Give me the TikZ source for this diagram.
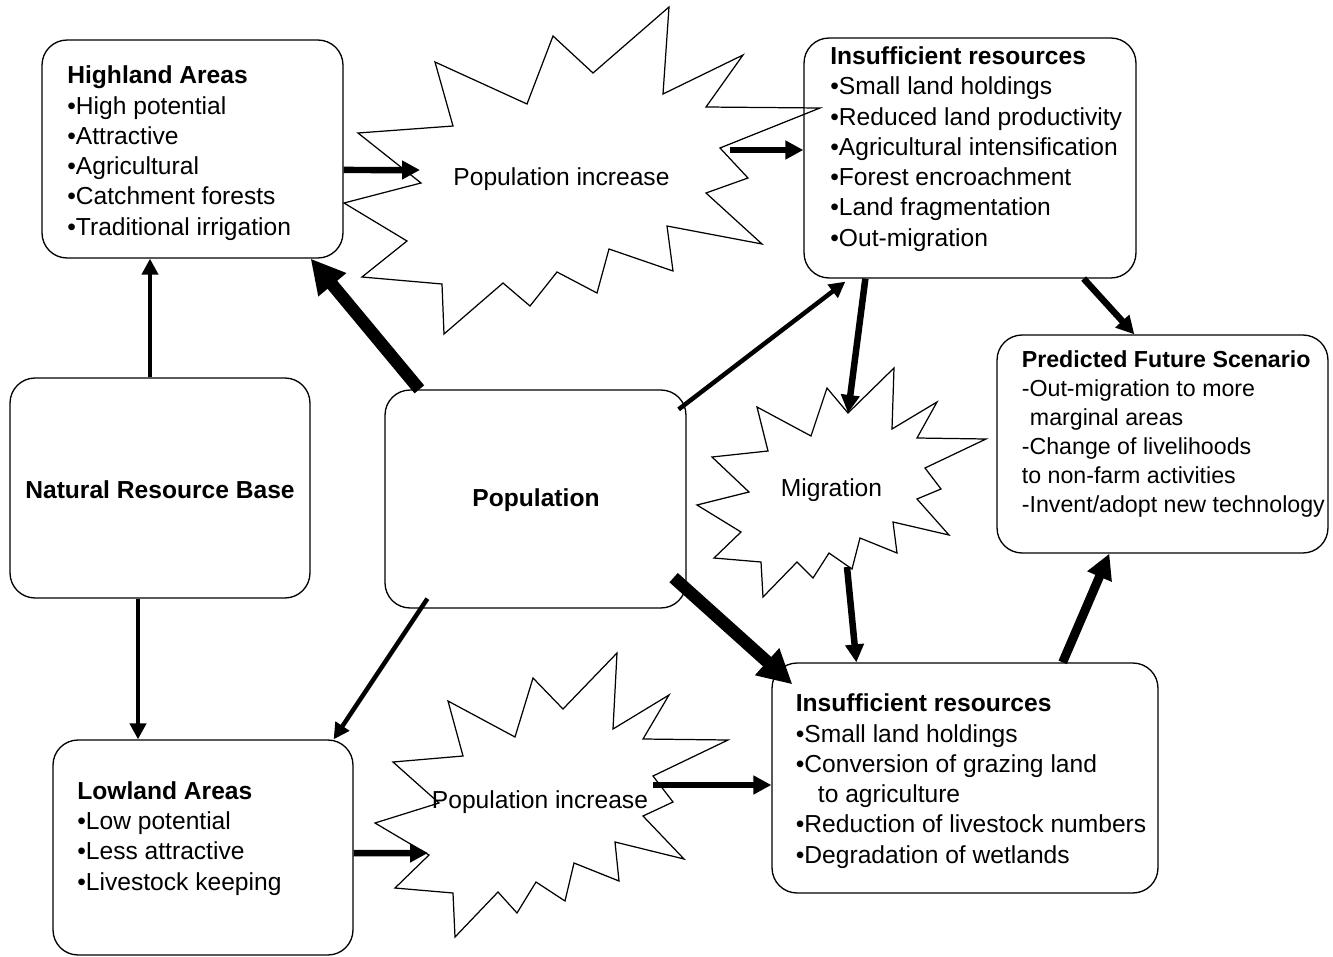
\documentclass[tikz,border=0pt]{standalone}
\usepackage{fontspec}
\setmainfont{Liberation Sans}
\usetikzlibrary{arrows.meta}

\tikzset{
  box/.style={draw, line width=0.75pt, rounded corners=0.5cm, inner sep=0pt},
  burst/.style={draw, line width=0.7pt, fill=white, line join=miter},
  txt/.style={align=left, inner sep=0pt, font=\fontsize{14}{17.2}\selectfont},
  smalltxt/.style={align=left, inner sep=0pt, font=\fontsize{13.2}{16.5}\selectfont},
  thinarr/.style={line width=0.09cm, -{Triangle[length=0.32cm,width=0.32cm]}},
  medarr/.style={line width=0.13cm, -{Triangle[length=0.36cm,width=0.36cm]}},
  boldarr/.style={line width=0.18cm, -{Triangle[length=0.5cm,width=0.5cm]}},
  fatarr/.style={line width=0.25cm, -{Triangle[length=0.68cm,width=0.68cm]}}
}

\begin{document}
\begin{tikzpicture}[x=0.02cm,y=-0.02cm]
\useasboundingbox (0,0) rectangle (1333,957);

% Drawing starburst above (population increase, highlands)
\draw [burst] (344,203) -- (421,183) -- (358,133) -- (453,126) -- (435,62) -- (527,104) -- (553,36) -- (593,73) -- (669,7) -- (663,94) -- (743,55) -- (706,107) -- (820,108) -- (720,148) -- (748,178) -- (706,193) -- (762,244) -- (667,226) -- (673,271) -- (609,249) -- (597,293) -- (557,272) -- (530,306) -- (503,283) -- (444,334) -- (442,284) -- (362,277) -- (407,241) -- cycle;%

% Drawing starburst middle (migration)
\draw [burst] (827,388) -- (848,413) -- (894,368) -- (892,429) -- (937,402) -- (917,438) -- (986,439) -- (925,468) -- (941,489) -- (917,499) -- (949,535) -- (893,522) -- (897,553) -- (860,538) -- (852,569) -- (829,553) -- (813,578) -- (797,562) -- (763,597) -- (761,562) -- (714,558) -- (741,532) -- (697,505) -- (749,492) -- (712,457) -- (768,451) -- (757,407) -- (811,436) -- cycle;%

% Drawing starburst below (population increase, lowlands)
\draw [burst] (448,701) -- (515,737) -- (533,678) -- (563,709) -- (617,653) -- (613,729) -- (669,695) -- (643,739) -- (728,740) -- (653,776) -- (673,802) -- (643,816) -- (684,859) -- (615,842) -- (619,881) -- (574,863) -- (565,901) -- (536,882) -- (517,913) -- (498,892) -- (455,937) -- (453,893) -- (395,888) -- (429,855) -- (375,823) -- (439,803) -- (393,762) -- (463,756) -- cycle;%

% Texts of the starbursts
\node [txt, anchor=base] (incup) at (561.5,185) {Population increase};
\node [txt, anchor=base] (migtext) at (831.5,496.5) {Migration};
\node [txt, anchor=base] (incdown) at (540,808) {Population increase};

% Points on the starbursts
\coordinate (burstupin) at (420,170);
\coordinate (burstupout) at (730,150);
\coordinate (migin) at (848,413);
\coordinate (migout) at (847,567);
\coordinate (burstdownin) at (428,853);
\coordinate (burstdownout) at (653,785);

% Boxes
\node [box, minimum width=6.02cm, minimum height=4.36cm] (high) at (192.5,149) {};
\node [box, minimum width=6cm, minimum height=4.4cm] (nat) at (160,488) {};
\node [box, minimum width=6.02cm, minimum height=4.36cm] (pop) at (535.5,499) {};
\node [box, minimum width=6cm, minimum height=4.3cm] (low) at (203,847.5) {};
\node [box, minimum width=6.64cm, minimum height=4.8cm] (instop) at (970,158) {};
\node [box, minimum width=6.62cm, minimum height=4.36cm] (pred) at (1162.5,444) {};
\node [box, minimum width=7.72cm, minimum height=4.6cm] (insbot) at (965,778) {};

% Texts of the boxes (base = baseline of the last line)
\node [txt, anchor=base west] (hightext) at (67,235) {\textbf{Highland Areas}\\•High potential\\•Attractive\\•Agricultural\\•Catchment forests\\•Traditional irrigation};
\node [txt, anchor=center] (nattext) at (160,490) {\textbf{Natural Resource Base}};
\node [txt, anchor=center] (poptext) at (536,500) {\textbf{Population}};
\node [txt, anchor=base west] (lowtext) at (77,890) {\textbf{Lowland Areas}\\•Low potential\\•Less attractive\\•Livestock keeping};
\node [txt, anchor=base west] (instoptext) at (830,246) {\textbf{Insufficient resources}\\•Small land holdings\\•Reduced land productivity\\•Agricultural intensification\\•Forest encroachment\\•Land fragmentation\\•Out-migration};
\node [smalltxt, anchor=base west] (predtext) at (1021.5,512) {\textbf{Predicted Future Scenario}\\-Out-migration to more\\\hspace*{0.35em}marginal areas\\-Change of livelihoods\\to non-farm activities\\-Invent/adopt new technology};
\node [txt, anchor=base west] (insbottext) at (795.5,863) {\textbf{Insufficient resources}\\•Small land holdings\\•Conversion of grazing land\\\hspace*{0.9em}to agriculture\\•Reduction of livestock numbers\\•Degradation of wetlands};

% Arrows
\draw [thinarr] ([xshift=-0.2cm]nat.north) -- ([xshift=-0.2cm]nat.north |- high.south);
\draw [thinarr] ([xshift=-0.44cm]nat.south) -- ([xshift=-0.44cm]nat.south |- low.north);
\draw [medarr] ([yshift=-0.42cm]high.east) -- (burstupin);
\draw [medarr] (burstupout) -- (burstupout -| instop.west);
\draw [fatarr] ([xshift=0.7cm]pop.north west) -- ([xshift=-0.66cm]high.south east);
\draw [thinarr] ([xshift=-0.16cm,yshift=-0.4cm]pop.north east) -- ([xshift=0.84cm,yshift=-0.06cm]instop.south west);
\draw [medarr] ([xshift=1.24cm]instop.south west) -- (migin);
\draw [medarr] ([xshift=-1.06cm]instop.south east) -- ([xshift=2.76cm]pred.north west);
\draw [fatarr] ([xshift=-0.26cm,yshift=0.62cm]pop.south east) -- ([xshift=0.42cm,yshift=-0.44cm]insbot.north west);
\draw [medarr] (migout) -- ([xshift=1.7cm]insbot.north west);
\draw [boldarr] ([xshift=-1.92cm]insbot.north east) -- ([xshift=2.26cm]pred.south west);
\draw [thinarr] ([xshift=0.86cm,yshift=0.2cm]pop.south west) -- ([xshift=-0.4cm]low.north east);
\draw [medarr] ([yshift=-0.11cm]low.east) -- (burstdownin);
\draw [medarr] (burstdownout) -- (burstdownout -| insbot.west);
\end{tikzpicture}
\end{document}
